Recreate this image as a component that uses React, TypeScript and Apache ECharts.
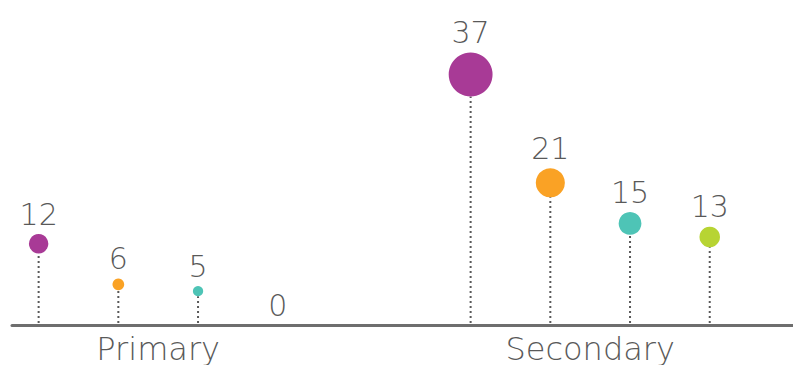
import React, { useEffect, useRef } from "react";
import * as echarts from "echarts";

const categories = ["Primary", "Secondary"];
const purpleValues = [12, 37];
const orangeValues = [6, 21];
const tealValues = [5, 15];
const limeValues = [0, 13];
const seriesColors = ["#A83A96", "#FAA225", "#4EC4B6", "#B7D433"];
const seriesValues = [purpleValues, orangeValues, tealValues, limeValues];

const FONT = "'DejaVu Sans', 'Open Sans', sans-serif";
const TEXT_COLOR = "#595959";
const SPACING = 0.1845;

const radiusOf = (v: number) => (v > 0 ? 1.6 * Math.pow(v, 0.725) : 0);

export default function App() {
  const ref = useRef<HTMLDivElement>(null);
  useEffect(() => {
    if (!ref.current) return;
    const chart = echarts.init(ref.current, undefined, { renderer: "svg" });
    const series = seriesValues.map((vals, i) => ({
      type: "custom",
      name: "s" + i,
      data: vals.map((v, g) => [g, v]),
      encode: { x: 0, y: 1 },
      renderItem: (params: any, api: any) => {
        const g = api.value(0);
        const v = api.value(1);
        const x = g + (i - 1.5) * SPACING;
        const [cx, cy] = api.coord([x, v]);
        const [, by] = api.coord([x, 0]);
        const r = radiusOf(v);
        const children: any[] = [];
        if (v > 0) {
          children.push({
            type: "line",
            shape: { x1: cx, y1: by - 2, x2: cx, y2: cy + r },
            style: { stroke: "#595959", lineWidth: 2, lineDash: [2, 3] },
          });
          children.push({
            type: "circle",
            shape: { cx, cy, r },
            style: { fill: seriesColors[i] },
          });
        }
        children.push({
          type: "text",
          x: cx,
          y: cy - r - 5,
          style: {
            text: String(v),
            fill: TEXT_COLOR,
            font: `200 30px ${FONT}`,
            textAlign: "center",
            textVerticalAlign: "bottom",
          },
        });
        return { type: "group", children };
      },
    }));
    chart.setOption({
      animation: false,
      grid: { left: 12, right: 0, top: 0, bottom: 40, containLabel: false },
      xAxis: {
        type: "value",
        min: -0.3384,
        max: 1.4695,
        splitLine: { show: false },
        axisTick: { show: false },
        axisLine: { show: true, lineStyle: { color: "#6E6E6E", width: 3 } },
        axisLabel: {
          customValues: [0, 1],
          formatter: (val: number) => categories[Math.round(val)] ?? "",
          color: TEXT_COLOR,
          fontSize: 32,
          fontFamily: FONT,
          fontWeight: 200,
          margin: 8,
        },
      },
      yAxis: {
        type: "value",
        min: 0,
        max: 48,
        show: false,
        splitLine: { show: false },
      },
      series,
    });
    return () => chart.dispose();
  }, []);
  return (
    <div
      ref={ref}
      style={{ position: "absolute", left: 0, top: 0, width: 793, height: 365 }}
    />
  );
}
